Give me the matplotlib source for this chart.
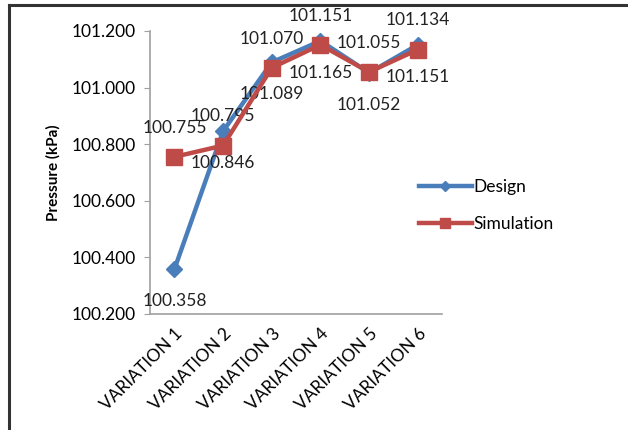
import matplotlib.pyplot as plt
from matplotlib.lines import Line2D

plt.rcParams["font.family"] = ["Lato", "DejaVu Sans"]

categories = ["VARIATION 1", "VARIATION 2", "VARIATION 3",
              "VARIATION 4", "VARIATION 5", "VARIATION 6"]
design = [100.358, 100.846, 101.089, 101.165, 101.052, 101.151]
simulation = [100.755, 100.795, 101.070, 101.151, 101.055, 101.134]
y_ticks = [100.2, 100.4, 100.6, 100.8, 101.0, 101.2]

BLUE = "#4a7ebb"
RED = "#be4b48"
FS = 12.5

fig = plt.figure(figsize=(6.28, 4.3), dpi=100)
ax = fig.add_axes([0.239, 0.270, 0.465, 0.658])

x = list(range(len(categories)))
ax.plot(x, design, color=BLUE, lw=3.2, marker="D", ms=8, label="Design", zorder=3)
ax.plot(x, simulation, color=RED, lw=3.2, marker="s", ms=11, label="Simulation", zorder=4)

# value labels: simulation above the point, design below
for xi, v in zip(x, simulation):
    ax.annotate(f"{v:.3f}", (xi, v), xytext=(0, 21), textcoords="offset points",
                ha="center", va="center", fontsize=FS, color="#222222")
for xi, v in zip(x, design):
    ax.annotate(f"{v:.3f}", (xi, v), xytext=(0, -23), textcoords="offset points",
                ha="center", va="center", fontsize=FS, color="#222222")

ax.set_xlim(-0.5, len(categories) - 0.5)
ax.set_ylim(100.2, 101.2)
ax.set_yticks(y_ticks)
ax.set_yticklabels([f"{t:.3f}" for t in y_ticks], fontsize=FS)
ax.set_xticks(x)
ax.set_xticklabels(categories, rotation=45, ha="right", rotation_mode="anchor",
                   fontsize=FS)
ax.tick_params(axis="x", length=0, pad=8)
ax.tick_params(axis="y", length=4, color="#a0a0a0", pad=6)
ax.set_ylabel("Pressure (kPa)", fontsize=11, fontweight="bold", labelpad=8)

for side in ("top", "right"):
    ax.spines[side].set_visible(False)
for side in ("left", "bottom"):
    ax.spines[side].set_color("#a0a0a0")
    ax.spines[side].set_linewidth(1.2)

handles = [
    Line2D([], [], color=BLUE, lw=3.2, marker="D", ms=5),
    Line2D([], [], color=RED, lw=3.2, marker="s", ms=7),
]
fig.legend(handles, ["Design", "Simulation"], loc="upper left",
           bbox_to_anchor=(0.643, 0.62), frameon=False, fontsize=FS,
           handlelength=3.0, handletextpad=0.1, labelspacing=1.2)

# chart border (top and left edges)
fig.add_artist(Line2D([0.014, 1.0], [0.988, 0.988], color="#333333", lw=2.2))
fig.add_artist(Line2D([0.014, 0.014], [0.0, 0.988], color="#333333", lw=2.2))

fig.savefig("out.png", dpi=100)
